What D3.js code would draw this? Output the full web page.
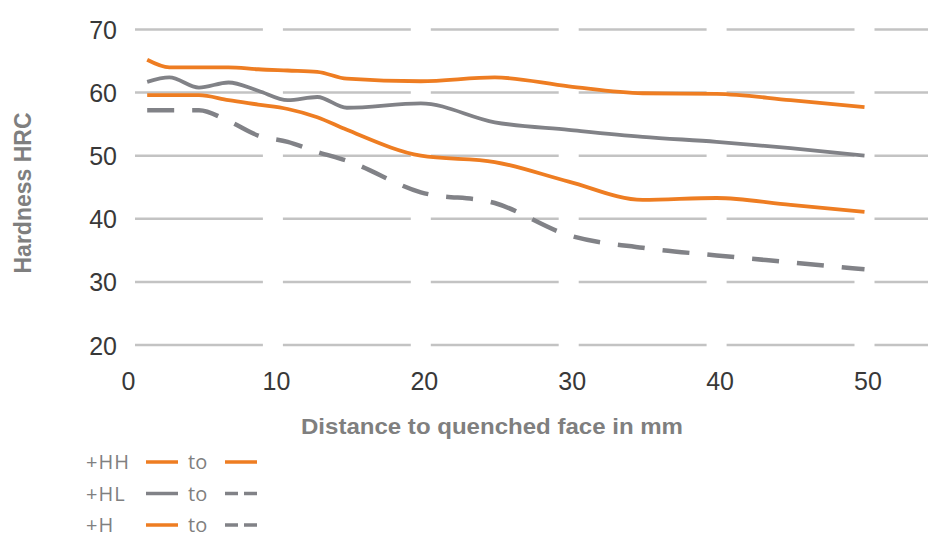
<!DOCTYPE html>
<html>
<head>
<meta charset="utf-8">
<script src="https://cdn.jsdelivr.net/npm/d3@7"></script>
<style>
  body { margin: 0; background: #fff; }
</style>
</head>
<body>
<div id="chart"></div>
<script>
// distances from the quenched end (mm)
var distances = [1.5, 3, 5, 7, 9, 11, 13, 15, 20, 25, 30, 35, 40, 45, 50];

// hardness values HRC
var orangeUpper = [65.2, 64.0, 64.0, 64.0, 63.7, 63.5, 63.3, 62.2, 61.8, 62.4, 61.0, 59.9, 59.8, 58.8, 57.7];
var grayUpper   = [61.7, 62.4, 60.8, 61.6, 60.3, 58.8, 59.3, 57.6, 58.3, 55.3, 54.1, 53.0, 52.2, 51.2, 50.0];
var orangeLower = [59.6, 59.6, 59.6, 58.8, 58.1, 57.4, 56.1, 54.1, 50.0, 49.0, 45.9, 43.0, 43.3, 42.2, 41.1];
var grayLower   = [57.2, 57.2, 57.2, 55.5, 53.2, 52.2, 50.6, 49.2, 44.2, 42.5, 37.4, 35.4, 34.2, 33.1, 32.0];

var xTicks = [0, 10, 20, 30, 40, 50];
var yTicks = [20, 30, 40, 50, 60, 70];

var legendNames = ["+HH", "+HL", "+H"];
var legendFrom = ["orange", "gray", "orange"];
var legendTo = ["orange", "grayDash", "grayDash"];

var svgWidth = 928;
var svgHeight = 539;

var ORANGE = "#ee7d22";
var GRAY = "#818287";

var svg = d3.select("#chart")
    .append("svg")
    .attr("width", svgWidth)
    .attr("height", svgHeight);

var xScale = d3.scaleLinear()
    .domain([0, 50])
    .range([125, 864.5]);

var yScale = d3.scaleLinear()
    .domain([20, 70])
    .range([345, 29.5]);

// gridlines, broken at every x tick
var gridGroup = svg.append("g").attr("class", "grid");
yTicks.forEach(function(t) {
    xTicks.forEach(function(s) {
        gridGroup.append("line")
            .attr("x1", xScale(s) + 10)
            .attr("x2", Math.min(xScale(s + 10) - 10, svgWidth))
            .attr("y1", yScale(t))
            .attr("y2", yScale(t))
            .attr("stroke", "#c3c3c3")
            .attr("stroke-width", 2.5);
    });
});

// y axis labels
var leftAxis = d3.axisLeft(yScale).tickValues(yTicks).tickSize(0).tickPadding(0);
var yAxis = svg.append("g")
    .attr("transform", "translate(117, 0)")
    .call(leftAxis);
yAxis.select(".domain").remove();
yAxis.selectAll("text")
    .attr("font-family", "Liberation Sans, Arial, sans-serif")
    .attr("font-size", "25px")
    .attr("fill", "#383838")
    .attr("dy", "0.36em");

// x axis labels
var bottomAxis = d3.axisBottom(xScale).tickValues(xTicks).tickSize(0).tickPadding(0);
var xAxis = svg.append("g")
    .attr("transform", "translate(3, 370)")
    .call(bottomAxis);
xAxis.select(".domain").remove();
xAxis.selectAll("text")
    .attr("font-family", "Liberation Sans, Arial, sans-serif")
    .attr("font-size", "25px")
    .attr("fill", "#383838")
    .attr("dy", "0.8em");

// axis titles
svg.append("text")
    .attr("x", 492)
    .attr("y", 434)
    .attr("text-anchor", "middle")
    .attr("font-family", "Liberation Sans, Arial, sans-serif")
    .attr("font-weight", "bold")
    .attr("font-size", "22px")
    .attr("textLength", 382)
    .attr("lengthAdjust", "spacingAndGlyphs")
    .attr("fill", "#7f7f7f")
    .text("Distance to quenched face in mm");

svg.append("text")
    .attr("transform", "translate(31, 193) rotate(-90)")
    .attr("text-anchor", "middle")
    .attr("font-family", "Liberation Sans, Arial, sans-serif")
    .attr("font-weight", "bold")
    .attr("font-size", "23px")
    .attr("fill", "#7f7f7f")
    .text("Hardness HRC");

// curves
var series = [
    {values: grayLower, color: GRAY, dash: "27,18"},
    {values: orangeLower, color: ORANGE, dash: null},
    {values: grayUpper, color: GRAY, dash: null},
    {values: orangeUpper, color: ORANGE, dash: null}
];

var line = d3.line()
    .x(function(d) { return xScale(d[0]); })
    .y(function(d) { return yScale(d[1]); })
    .curve(d3.curveMonotoneX);

series.forEach(function(s) {
    var pts = distances.map(function(d, i) { return [d, s.values[i]]; });
    svg.append("path")
        .datum(pts)
        .attr("d", line)
        .attr("fill", "none")
        .attr("stroke", s.color)
        .attr("stroke-width", s.dash ? 4.5 : 3.8)
        .attr("stroke-dasharray", s.dash)
        .attr("stroke-linejoin", "round");
});

// legend
var styles = {
    orange: {color: ORANGE, dash: null},
    gray: {color: GRAY, dash: null},
    grayDash: {color: GRAY, dash: "13,6"}
};

var legend = svg.append("g").attr("class", "legend");
legendNames.forEach(function(name, i) {
    var y = 462 + i * 31.5;
    legend.append("text")
        .attr("x", 86)
        .attr("y", y)
        .attr("dy", "0.36em")
        .attr("font-family", "Open Sans, sans-serif")
        .attr("font-size", "20px")
        .attr("letter-spacing", "1px")
        .attr("fill", "#808080")
        .text(name);
    legend.append("line")
        .attr("x1", 146).attr("x2", 178)
        .attr("y1", y).attr("y2", y)
        .attr("stroke", styles[legendFrom[i]].color)
        .attr("stroke-width", 3.5)
        .attr("stroke-dasharray", styles[legendFrom[i]].dash);
    legend.append("text")
        .attr("x", 188)
        .attr("y", y)
        .attr("dy", "0.36em")
        .attr("font-family", "Open Sans, sans-serif")
        .attr("font-size", "20px")
        .attr("fill", "#808080")
        .text("to");
    legend.append("line")
        .attr("x1", 225).attr("x2", 257)
        .attr("y1", y).attr("y2", y)
        .attr("stroke", styles[legendTo[i]].color)
        .attr("stroke-width", 3.5)
        .attr("stroke-dasharray", styles[legendTo[i]].dash);
});
</script>
</body>
</html>
